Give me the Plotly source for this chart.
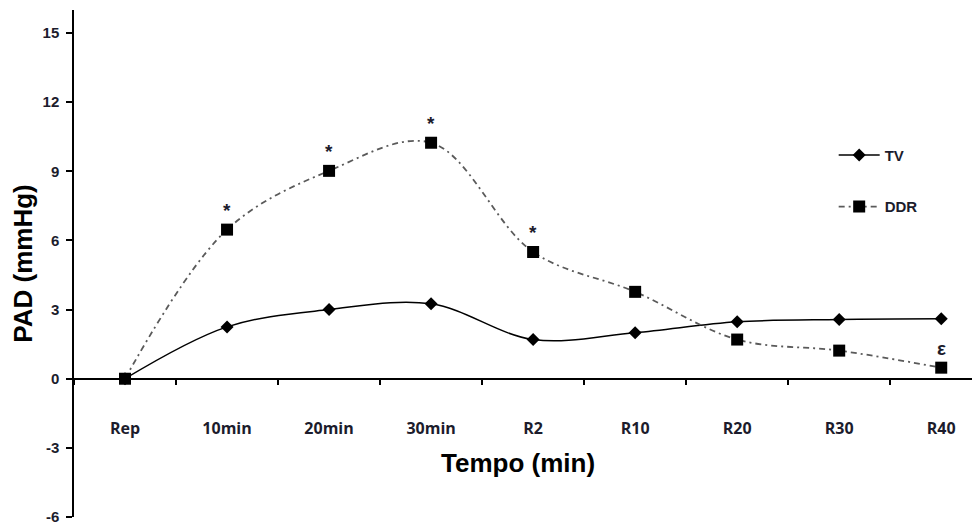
import plotly.graph_objects as go

categories = ["Rep", "10min", "20min", "30min", "R2", "R10", "R20", "R30", "R40"]
tv_values = [0, 2.25, 3.0, 3.25, 1.7, 2.0, 2.47, 2.57, 2.6]
ddr_values = [0, 6.47, 9.02, 10.24, 5.5, 3.77, 1.7, 1.22, 0.48]
marks_ddr = ["", "*", "*", "*", "*", "", "", "", "\u03b5"]
y_ticks = [-6, -3, 0, 3, 6, 9, 12, 15]
y_tick_labels = ["-6", "-3", "0", "3", "6", "9", "12", "15"]

txt_col = "#1c1c2c"
FAM = "Liberation Sans, Arial"
fig = go.Figure()
fig.add_trace(go.Scatter(
    x=categories, y=tv_values, name="TV", mode="lines+markers",
    line=dict(color="#000000", width=1.5, shape="spline", smoothing=1.0),
    marker=dict(symbol="diamond", size=10, color="#000000"),
    legendgroup="a"))
fig.add_trace(go.Scatter(
    x=categories, y=ddr_values, name="DDR", mode="lines+markers",
    line=dict(color="#5a5a5a", width=1.8, shape="spline", smoothing=1.0,
              dash="6px,4px,2px,4px"),
    marker=dict(symbol="square", size=12, color="#000000"),
    legendgroup="b"))

for c, v, m in zip(categories, ddr_values, marks_ddr):
    if m:
        fig.add_annotation(x=c, y=v, text=m, showarrow=False,
                           yshift=19, font=dict(size=19, color=txt_col,
                                                family=FAM, weight="bold"))

fig.add_annotation(xref="paper", yref="paper", x=0.49, y=0.107,
                   xanchor="center", yanchor="middle",
                   text="Tempo (min)", showarrow=False,
                   font=dict(size=26, color="#000000", family=FAM, weight="bold"))

# page body has an 8px default margin: the figure is sized to fill the rest
fig.update_layout(
    width=972, height=516,
    margin=dict(l=66, r=0, t=2, b=7, autoexpand=False),
    paper_bgcolor="white", plot_bgcolor="white",
    showlegend=True,
    legend=dict(x=0.8385, y=0.746, xanchor="left", yanchor="top",
                bgcolor="rgba(0,0,0,0)", tracegroupgap=29, itemwidth=41,
                traceorder="grouped",
                font=dict(size=15, color=txt_col, family=FAM, weight="bold")),
    xaxis=dict(type="category", categoryorder="array", categoryarray=categories,
               range=[-0.5, 8.38], anchor="free", position=6 / 22,
               automargin=False,
               showline=True, linecolor="#000000", linewidth=1.5,
               ticks="outside", ticklen=6, tickcolor="#000000", tickwidth=1.5,
               tickson="boundaries", showgrid=False, zeroline=False,
               ticklabelstandoff=35,
               tickfont=dict(size=16, color=txt_col, family="Open Sans", weight="bold")),
    yaxis=dict(range=[-6, 16], tickmode="array", tickvals=y_ticks,
               ticktext=y_tick_labels, ticklabeloverflow="allow",
               showline=True, automargin=False,
               linecolor="#000000", linewidth=1.5, ticks="outside", ticklen=6,
               tickcolor="#000000", tickwidth=1.5, showgrid=False, zeroline=False,
               ticklabelstandoff=4,
               tickfont=dict(size=15, color=txt_col, family=FAM, weight="bold"),
               title=dict(text="PAD (mmHg)", standoff=6,
                          font=dict(size=26, color="#000000", family=FAM,
                                    weight="bold"))),
)

fig.write_html("out.html")
